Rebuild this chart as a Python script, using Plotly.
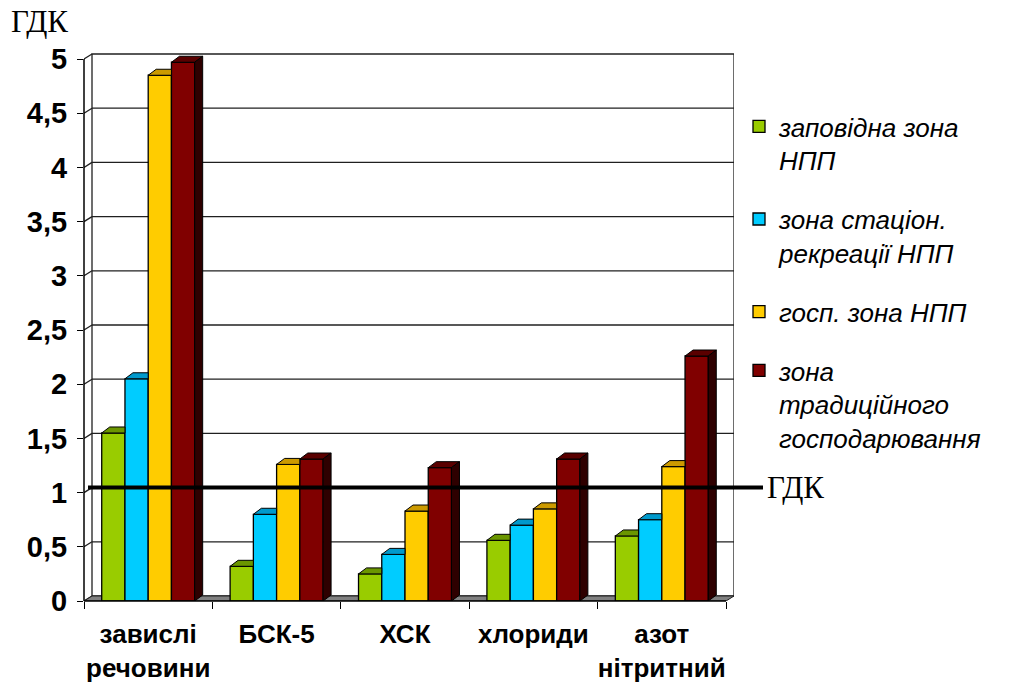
import plotly.graph_objects as go

# ---- data -------------------------------------------------------------
categories = ["завислі<br>речовини", "БСК-5", "ХСК", "хлориди", "азот<br>нітритний"]
series_names = [
    "заповідна зона<br>НПП",
    "зона стаціон.<br>рекреації НПП",
    "госп. зона НПП",
    "зона<br>традиційного<br>господарювання",
]
zapovidna = [1.55, 0.32, 0.25, 0.56, 0.60]
stats_rekr = [2.05, 0.80, 0.43, 0.70, 0.75]
hosp_zona = [4.85, 1.26, 0.83, 0.85, 1.24]
tradyts = [4.97, 1.31, 1.23, 1.31, 2.26]
y_tick_vals = [0, 0.5, 1, 1.5, 2, 2.5, 3, 3.5, 4, 4.5, 5]
y_tick_text = ["0", "0,5", "1", "1,5", "2", "2,5", "3", "3,5", "4", "4,5", "5"]
GDK = 1.0

series = [zapovidna, stats_rekr, hosp_zona, tradyts]
front_colors = ["#99CC00", "#00CCFF", "#FFCC00", "#800000"]
top_colors = ["#6B9600", "#0099CC", "#CC9A00", "#5A0000"]
side_colors = ["#4A6600", "#006688", "#886600", "#2E0000"]

# ---- geometry ---------------------------------------------------------
W, H = 1015, 686
ML, MR, MT, MB = 84, 281, 50, 85
PX_X, PX_Y = 128.4, 108.4           # pixels per category / per unit
plot_w, plot_h = W - ML - MR, H - MT - MB
x_range = [-0.5, -0.5 + plot_w / PX_X]
y_range = [0, plot_h / PX_Y]

DX, DY = 8 / PX_X, 6 / PX_Y          # depth of the columns
DXW, DYW = 8 / PX_X, 5 / PX_Y        # depth of the walls
GROUP = 0.724
BW = GROUP / len(series)
xs = list(range(len(categories)))
n_cat = len(categories)

fig = go.Figure()

# front faces of the columns
for k, (name, vals) in enumerate(zip(series_names, series)):
    fig.add_trace(go.Bar(
        x=xs, y=vals, name=name, width=BW, offset=-GROUP / 2 + k * BW,
        marker=dict(color=front_colors[k], line=dict(color="black", width=1.3)),
        legendgroup=str(k), hoverinfo="skip",
    ))

# top and side faces of the columns
for k, vals in enumerate(series):
    tx, ty, sx, sy = [], [], [], []
    for i, v in enumerate(vals):
        xl = i - GROUP / 2 + k * BW
        xr = xl + BW
        nxt = series[k + 1][i] if k + 1 < len(series) else None
        if nxt is not None and nxt >= v:
            tx += [xl, xr, xr, xl + DX, xl, None]
            ty += [v, v, v + DY, v + DY, v, None]
        else:
            tx += [xl, xr, xr + DX, xl + DX, xl, None]
            ty += [v, v, v + DY, v + DY, v, None]
            lo = nxt if nxt is not None else 0
            sx += [xr, xr + DX, xr + DX, xr, xr, None]
            sy += [lo, lo + DY, v + DY, v, lo, None]
    fig.add_trace(go.Scatter(
        x=tx, y=ty, mode="lines", fill="toself", fillcolor=top_colors[k],
        line=dict(color="black", width=1), showlegend=False, hoverinfo="skip",
    ))
    if sx:
        fig.add_trace(go.Scatter(
            x=sx, y=sy, mode="lines", fill="toself", fillcolor=side_colors[k],
            line=dict(color="black", width=1), showlegend=False, hoverinfo="skip",
        ))

shapes = []
wall_line = dict(color="#202020", width=1.3)
x_back_l, x_back_r = -0.5 + DXW, n_cat - 0.5 + DXW
top_v = y_tick_vals[-1]

# back wall and its gridlines
shapes.append(dict(type="rect", xref="x", yref="y", x0=x_back_l, x1=x_back_r,
                   y0=DYW, y1=top_v + DYW, line=wall_line, fillcolor="white",
                   layer="below"))
for v in y_tick_vals[1:-1]:
    shapes.append(dict(type="line", xref="x", yref="y", x0=x_back_l, x1=x_back_r,
                       y0=v + DYW, y1=v + DYW, line=wall_line, layer="below"))
# side wall: links from the front axis to the back wall
for v in y_tick_vals:
    shapes.append(dict(type="line", xref="x", yref="y", x0=-0.5, x1=x_back_l,
                       y0=v, y1=v + DYW, line=wall_line, layer="below"))
# floor
floor = (f"M {-0.5},0 L {n_cat - 0.5},0 L {x_back_r},{DYW} "
         f"L {x_back_l},{DYW} Z")
shapes.append(dict(type="path", xref="x", yref="y", path=floor,
                   fillcolor="#808080", line=dict(color="#202020", width=1),
                   layer="below"))
# front value axis and front category axis
shapes.append(dict(type="line", xref="paper", yref="y", x0=0, x1=0,
                   y0=0, y1=top_v, line=dict(color="black", width=1.5)))
shapes.append(dict(type="line", xref="x", yref="paper", x0=-0.5, x1=n_cat - 0.5,
                   y0=0, y1=0, line=dict(color="black", width=1.5)))
# ГДК level on the back wall
shapes.append(dict(type="line", xref="paper", yref="y",
                   x0=4 / plot_w, x1=(763 - ML) / plot_w,
                   y0=GDK + DYW, y1=GDK + DYW,
                   line=dict(color="black", width=4), layer="above"))

serif = "Liberation Serif, Times New Roman, serif"
annotations = [
    dict(text="ГДК", xref="paper", yref="y", x=(765 - ML) / plot_w,
         y=GDK + DYW, xanchor="left", yanchor="middle", showarrow=False,
         font=dict(family=serif, size=31, color="black")),
    dict(text="ГДК", xref="paper", yref="paper", x=(9 - ML) / plot_w,
         y=(H - MB - 22) / plot_h, xanchor="left", yanchor="middle",
         showarrow=False, font=dict(family=serif, size=31, color="black")),
]

fig.update_layout(
    width=W, height=H,
    margin=dict(l=ML, r=MR, t=MT, b=MB, pad=0, autoexpand=False),
    paper_bgcolor="white", plot_bgcolor="white",
    barmode="overlay", shapes=shapes, annotations=annotations,
    showlegend=True,
    legend=dict(
        x=(739 - ML) / plot_w, xanchor="left",
        y=(H - MB - 103) / plot_h, yanchor="top",
        font=dict(family="Liberation Sans, Arial, sans-serif", size=26,
                  style="italic", color="black"),
        valign="top", tracegroupgap=22, traceorder="grouped",
        bgcolor="rgba(0,0,0,0)",
    ),
    xaxis=dict(
        range=x_range, tickmode="array", tickvals=xs, ticktext=categories,
        ticks="", showgrid=False, zeroline=False, showline=False,
        ticklabelstandoff=15, tickangle=0, automargin=False,
        tickfont=dict(family="Liberation Sans, Arial, sans-serif",
                      size=26, weight="bold", color="black"),
        minor=dict(tickmode="array",
                   tickvals=[i - 0.5 for i in range(n_cat + 1)],
                   ticks="outside", ticklen=7, tickcolor="black", tickwidth=1.3,
                   showgrid=False),
    ),
    yaxis=dict(
        range=y_range, tickmode="array", tickvals=y_tick_vals, ticktext=y_tick_text,
        ticks="outside", ticklen=6, tickcolor="black", tickwidth=1.3,
        showgrid=False, zeroline=False, showline=False, ticklabelstandoff=4,
        automargin=False,
        tickfont=dict(family="Liberation Sans, Arial, sans-serif", size=29,
                      weight="bold", color="black"),
    ),
)

fig.write_html("out.html")
